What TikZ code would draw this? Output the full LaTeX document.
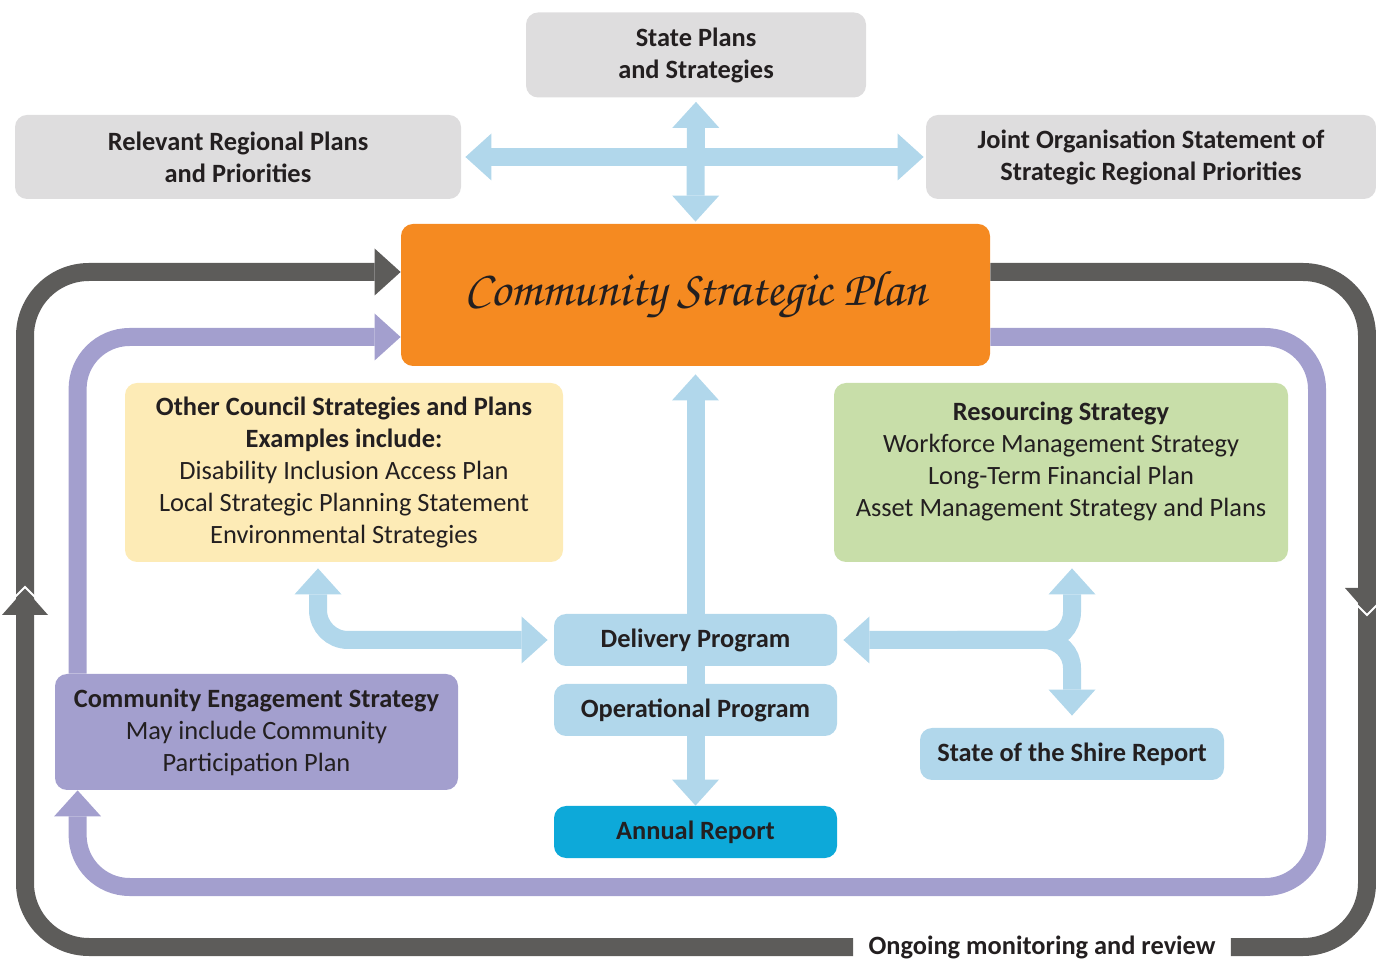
\documentclass[tikz,border=0pt]{standalone}
\usepackage{fontspec}
\setmainfont{Carlito}
\newfontfamily\handfont{texgyrechorus-mediumitalic.otf}
\usetikzlibrary{calc, arrows.meta}
\definecolor{boxGrey}{RGB}{222, 221, 222}
\definecolor{planOrange}{RGB}{245, 138, 33}
\definecolor{councilYellow}{RGB}{253, 235, 182}
\definecolor{resourceGreen}{RGB}{200, 222, 169}
\definecolor{flowBlue}{RGB}{177, 215, 235}
\definecolor{reportBlue}{RGB}{13, 169, 217}
\definecolor{engageViolet}{RGB}{163, 159, 206}
\definecolor{loopGrey}{RGB}{93, 92, 90}
\definecolor{inkColor}{RGB}{35, 31, 32}

\begin{document}
\begin{tikzpicture}[
    x=0.5pt, y=-0.5pt,
    bigtip/.tip={Triangle[width=23.5pt, length=13pt, line width=0pt]},
    every node/.style={font=\fontsize{13.2}{16}\selectfont, text=inkColor},
    plan box/.style={rounded corners=6pt, inner sep=0pt, align=center},
    grey box/.style={plan box, fill=boxGrey, font=\fontsize{13.2}{16}\selectfont\bfseries},
    program box/.style={plan box, fill=flowBlue, minimum width=141.5pt, minimum height=26pt, font=\fontsize{13.2}{16}\selectfont\bfseries},
    flow arrow/.style={draw=flowBlue, line width=9pt},
    review loop/.style={draw=loopGrey, line width=9pt, rounded corners=32pt},
    engage loop/.style={draw=engageViolet, line width=9pt, rounded corners=26pt}
]
    \useasboundingbox (0,0) rectangle (1376,961);

    % outer plans
    \node [grey box, minimum width=170pt, minimum height=42.5pt] (state) at (696,55) {State Plans\\and Strategies};
    \node [grey box, minimum width=223pt, minimum height=42pt] (regional) at (238,157) {Relevant Regional Plans\\and Priorities};
    \node [grey box, minimum width=225pt, minimum height=42pt] (joint) at (1151,157) {Joint Organisation Statement of\\Strategic Regional Priorities};

    \node [plan box, fill=planOrange, minimum width=294.5pt, minimum height=71pt] (csp) at (695.5,295)
        {\handfont\fontsize{25}{25}\selectfont Community Strategic Plan};

    % inner plans
    \node [plan box, fill=councilYellow, minimum width=219pt, minimum height=89.5pt] (council) at (344,472.5)
        {\textbf{Other Council Strategies and Plans}\\\textbf{Examples include:}\\Disability Inclusion Access Plan\\Local Strategic Planning Statement\\Environmental Strategies};
    \node [plan box, fill=resourceGreen, minimum width=227pt, minimum height=89.5pt] (resourcing) at (1061,472.5) {};
    \node [align=center] (resourcing_text) at (1061,462)
        {\textbf{Resourcing Strategy}\\Workforce Management Strategy\\Long-Term Financial Plan\\Asset Management Strategy and Plans};

    \node [program box] (delivery) at (695.5,640) {Delivery Program};
    \node [program box] (operational) at (695.5,710) {Operational Program};
    \node [program box, fill=reportBlue] (annual) at (695.5,832) {Annual Report};
    \node [program box, minimum width=152pt] (shire) at (1072,754) {State of the Shire Report};

    \node [plan box, fill=engageViolet, minimum width=201.5pt, minimum height=58pt] (engagement) at (256.5,732)
        {\textbf{Community Engagement Strategy}\\May include Community\\Participation Plan};

    \node [font=\fontsize{13.2}{16}\selectfont\bfseries, inner xsep=7.5pt] (review) at (1042,947) {Ongoing monitoring and review};

    % blue flows
    \draw [flow arrow, bigtip-bigtip, shorten <=2pt, shorten >=1pt] (regional.east) -- (joint.west);
    \draw [flow arrow, bigtip-bigtip, shorten <=2pt, shorten >=1pt] (state.south) -- (csp.north);
    \draw [flow arrow, -bigtip, shorten >=4pt] (delivery.north) -- (csp.south);
    \draw [flow arrow] (delivery.south) -- (operational.north);
    \draw [flow arrow, -bigtip] (operational.south) -- (annual.north);
    \draw [flow arrow, bigtip-bigtip, rounded corners=15pt, shorten <=3pt, shorten >=3pt]
        ([xshift=-13pt]council.south) |- (delivery.west);
    \draw [flow arrow, bigtip-bigtip, rounded corners=14pt, shorten <=3pt, shorten >=3pt]
        (shire.north |- resourcing.south) |- (delivery.east);
    \draw [flow arrow, -bigtip, rounded corners=14pt, shorten >=6pt]
        ([xshift=60pt]delivery.east) -| (shire.north);

    % monitoring and engagement loops
    \draw [review loop, -bigtip] (review.west) -| (25,272) -- ([yshift=11.5pt]csp.west);
    \draw [review loop] ([yshift=11.5pt]csp.east) -| (1367,947) -- (review.east);
    \fill [loopGrey] (2,615) -- (25,589) -- (48,615) -- cycle;
    \draw [white, line width=1pt] (13,599) -- (25,587) -- (37,599);
    \fill [loopGrey] (1345,588) -- (1367,613) -- (1389,588) -- cycle;
    \draw [white, line width=1pt] (1355,603) -- (1367,615) -- (1379,603);

    \draw [engage loop, -bigtip] ([xshift=11.5pt]engagement.north west) |- ([yshift=-21pt]csp.west);
    \draw [engage loop, -bigtip] ([yshift=-21pt]csp.east) -| (1317,887) -| ([xshift=11.5pt]engagement.south west);
\end{tikzpicture}
\end{document}
